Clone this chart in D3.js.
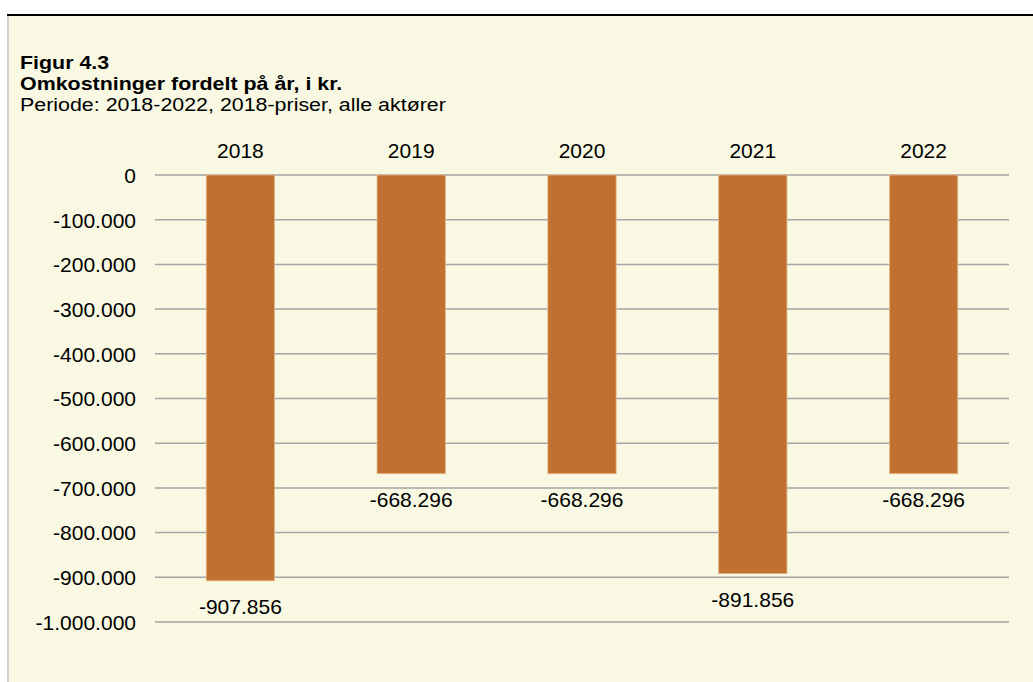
<!DOCTYPE html>
<html>
<head>
<meta charset="utf-8">
<script src="https://cdn.jsdelivr.net/npm/d3@7"></script>
<style>
html,body{margin:0;padding:0;background:#fff;}
svg{display:block;font-family:"Liberation Sans",Arial,sans-serif;}
</style>
</head>
<body>
<svg id="chart" width="1033" height="682"></svg>
<script>
const categories = ["2018", "2019", "2020", "2021", "2022"];
const values = [-907856, -668296, -668296, -891856, -668296];
const yTicks = [0, -100000, -200000, -300000, -400000, -500000, -600000, -700000, -800000, -900000, -1000000];
const titleLines = ["Figur 4.3", "Omkostninger fordelt på år, i kr.", "Periode: 2018-2022, 2018-priser, alle aktører"];

const svg = d3.select("#chart");
const W = 1033, H = 682;

// background panel
svg.append("rect").attr("x", 8).attr("y", 15).attr("width", W - 8).attr("height", H - 15).attr("fill", "#F8F8E3");
svg.append("line").attr("x1", 8).attr("x2", 8).attr("y1", 15).attr("y2", H).attr("stroke", "#D3D3D3").attr("stroke-width", 2);
svg.append("line").attr("x1", 7).attr("x2", W).attr("y1", 15).attr("y2", 15).attr("stroke", "#000").attr("stroke-width", 2);

// number format: dots as thousands separators, plain hyphen minus
const fmtNum = v => d3.format(",")(v).replace(/,/g, ".").replace(/\u2212/g, "-");

// title block (the reference type is slightly wide, so stretch horizontally)
const sx = 1.17;
const tl = svg.append("g");
tl.append("text").attr("transform", `translate(20,69) scale(${sx},1)`).attr("font-size", 18.3).attr("font-weight", "bold").text(titleLines[0]);
tl.append("text").attr("transform", `translate(20,90) scale(${sx},1)`).attr("font-size", 18.3).attr("font-weight", "bold").text(titleLines[1]);
tl.append("text").attr("transform", `translate(20,110.5) scale(${sx},1)`).attr("font-size", 18.3).text(titleLines[2]);

const margin = {left: 155, right: 1009, top: 175, bottom: 622};
const x = d3.scaleBand().domain(categories).range([margin.left, margin.right]).paddingInner(0.6).paddingOuter(0.3);
const y = d3.scaleLinear().domain([0, -1000000]).range([margin.top, margin.bottom]);

// gridlines
svg.append("g").selectAll("line").data(yTicks).join("line")
  .attr("x1", margin.left).attr("x2", margin.right)
  .attr("y1", d => y(d)).attr("y2", d => y(d))
  .attr("stroke", "#A6A6A6").attr("stroke-width", 1.5);

// y axis labels
const yAxis = d3.axisLeft(y).tickValues(yTicks).tickSize(0).tickPadding(0).tickFormat(fmtNum);
const ya = svg.append("g").attr("transform", `translate(${margin.left - 19},0)`).call(yAxis);
ya.select(".domain").remove();
ya.selectAll("text").attr("font-size", 21).attr("fill", "#000").attr("font-family", "Liberation Sans, Arial, sans-serif").attr("dy", "0.35em");

// bars
svg.append("g").selectAll("rect").data(values).join("rect")
  .attr("x", (d, i) => x(categories[i]))
  .attr("width", x.bandwidth())
  .attr("y", y(0))
  .attr("height", d => y(d) - y(0))
  .attr("fill", "#C07030")
  .attr("stroke", "#E9B788").attr("stroke-width", 0.8);

// category labels (top)
const xAxis = d3.axisTop(x).tickSize(0).tickPadding(0);
const xa = svg.append("g").attr("transform", `translate(0,${158})`).call(xAxis);
xa.select(".domain").remove();
xa.selectAll("text").attr("font-size", 21).attr("fill", "#000").attr("font-family", "Liberation Sans, Arial, sans-serif").attr("dy", 0);

// value labels
svg.append("g").selectAll("text").data(values).join("text")
  .attr("x", (d, i) => x(categories[i]) + x.bandwidth() / 2)
  .attr("y", d => y(d) + 33)
  .attr("text-anchor", "middle")
  .attr("font-size", 21)
  .attr("fill", "#000")
  .text(d => fmtNum(d));
</script>
</body>
</html>
